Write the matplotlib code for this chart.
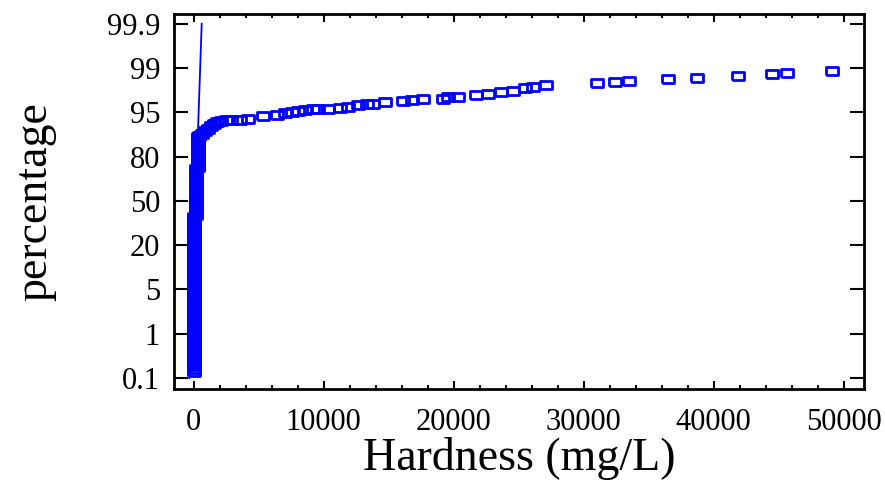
import numpy as np
import matplotlib
matplotlib.use("Agg")
import matplotlib.pyplot as plt
from matplotlib.ticker import FixedLocator, FixedFormatter, MultipleLocator, NullLocator

plt.rcParams['font.family'] = ['Liberation Serif', 'DejaVu Serif']

# probability axis labels (equally spaced on the chart)
pct_ticks = [0.1, 1, 5, 20, 50, 80, 95, 99, 99.9]
pct_labels = ['0.1', '1', '5', '20', '50', '80', '95', '99', '99.9']
x_ticks = [0, 10000, 20000, 30000, 40000, 50000]

# dense band of low hardness samples (mg/L) and their cumulative percentages
band_pct = [0.22, 0.28, 0.35, 0.41, 0.47, 0.53, 0.59, 0.65, 0.71,
            0.75, 0.80, 0.84, 0.88, 0.92, 0.96,
            1.0, 1.18, 1.36, 1.55, 1.73, 1.91, 2.09, 2.27, 2.45, 2.64, 2.82,
            3.0, 3.18, 3.36, 3.55, 3.73, 3.91, 4.09, 4.27, 4.45, 4.64, 4.82,
            5.0, 5.7, 6.4, 7.1, 7.8, 8.4, 9.1, 9.8, 10.5, 11.2, 11.9, 12.6,
            13.3, 14.0, 14.7, 15.3, 16.0, 16.7, 17.4, 18.1, 18.8, 19.5,
            20.3, 21.7, 23.0, 24.4, 25.7, 27.1, 28.4, 29.8, 31.1, 32.5, 33.8,
            35.2, 36.5, 37.9, 39.2,
            40.6, 41.9, 43.3, 44.6, 46.0, 47.3, 48.7, 50.0, 51.3, 52.7, 54.0,
            55.4, 56.7, 58.1, 59.4, 60.8, 62.1, 63.5, 64.8, 66.2, 67.5, 68.9,
            70.2, 71.6,
            72.9, 74.3, 75.6, 77.0, 78.3, 79.7, 80.5, 81.2, 81.9, 82.6, 83.2,
            83.9, 84.6, 85.3, 86.0, 86.6]
band_hard = [30, 30, 35, 35, 30, 35, 40, 35, 40,
             40, 35, 40, 40, 35, 40,
             40, 45, 40, 40, 45, 40, 45, 40, 40, 45, 40,
             45, 40, 40, 45, 40, 45, 40, 40, 45, 40, 45,
             40, 40, 45, 40, 45, 40, 40, 45, 40, 45, 40, 40,
             45, 40, 45, 40, 40, 45, 40, 45, 40, 45,
             40, 45, 40, 45, 40, 45, 40, 45, 40, 45, 40,
             45, 40, 45, 40,
             170, 180, 175, 180, 185, 180, 175, 180, 185, 180, 175,
             180, 185, 180, 175, 180, 185, 180, 175, 180, 185, 180,
             175, 180,
             360, 370, 365, 370, 375, 370, 365, 370, 375, 370, 365,
             370, 375, 370, 365, 370]

# bend and upper tail
tail_hard = [423, 654, 884, 1115, 1346, 1576, 1807, 2115, 2500, 2884,
             3580, 4210, 5340, 6400, 7040, 7550, 8060, 8570, 9210, 9570,
             10340, 11270, 11880, 12650, 13320, 13800, 14730, 16110, 16770,
             17650, 19190, 19570, 20340, 21720, 22640, 23620, 24550, 25490,
             26110, 27110, 31030, 32420, 33470, 36470, 38700, 41850, 44460,
             45660, 49080]
tail_pct = [87.0, 87.7, 88.5, 89.4, 90.2, 91.1, 91.8, 92.1, 92.3, 92.4,
            92.4, 92.8, 93.6, 94.25, 94.7, 95.02, 95.11, 95.17, 95.26, 95.32,
            95.32, 95.41, 95.48, 95.63, 95.72, 95.78, 95.94, 96.06, 96.1,
            96.24, 96.24, 96.36, 96.40, 96.52, 96.61, 96.86, 96.95, 97.16,
            97.32, 97.47, 97.62, 97.71, 97.87, 97.99, 98.08, 98.30, 98.48,
            98.52, 98.76]

# fitted line end points
fit_hard = [-315, 630]
fit_pct = [0.1, 99.9]

# piecewise scale: labelled percentages sit at equal steps
p_ext = [-1000.0] + pct_ticks + [1000.0]
t_ext = [-1000.1 / 0.9] + list(range(len(pct_ticks))) + [8 + 900.1 / 0.9]


def fwd(p):
    return np.interp(p, p_ext, t_ext)


def inv(t):
    return np.interp(t, t_ext, p_ext)


fig = plt.figure(figsize=(8.85, 4.93), dpi=100)
ax = fig.add_axes([174 / 885, 1 - 389 / 493, 690 / 885, 375 / 493])
ax.set_yscale('function', functions=(fwd, inv))

rect = [(-1, -0.69), (1, -0.69), (1, 0.69), (-1, 0.69), (-1, -0.69)]
hard = band_hard + tail_hard
pct = band_pct + tail_pct
ax.plot(fit_hard, fit_pct, color='blue', lw=1.3)
ax.plot(hard, pct, ls='none', marker=rect, ms=9, mfc='none',
        mec='blue', mew=2)

ax.set_xlim(-1500, 51560)
ax.set_ylim(-0.125, 100.098)

ax.yaxis.set_major_locator(FixedLocator(pct_ticks))
ax.yaxis.set_major_formatter(FixedFormatter(pct_labels))
ax.yaxis.set_minor_locator(NullLocator())
ax.set_xticks(x_ticks)
ax.set_xticklabels([str(v) for v in x_ticks])
ax.xaxis.set_minor_locator(MultipleLocator(2000))

ax.tick_params(axis='both', which='both', direction='in', top=True,
               right=True, width=1.5, labelsize=22)
ax.tick_params(axis='y', which='major', length=10, pad=10)
ax.tick_params(axis='x', which='major', length=6, pad=14)
ax.tick_params(axis='x', which='minor', length=3)
for s in ax.spines.values():
    s.set_linewidth(2)

ax.set_xlabel('Hardness (mg/L)', fontsize=33, labelpad=0)
ax.set_ylabel('percentage', fontsize=33, labelpad=36)

fig.savefig('out.png', dpi=100)
